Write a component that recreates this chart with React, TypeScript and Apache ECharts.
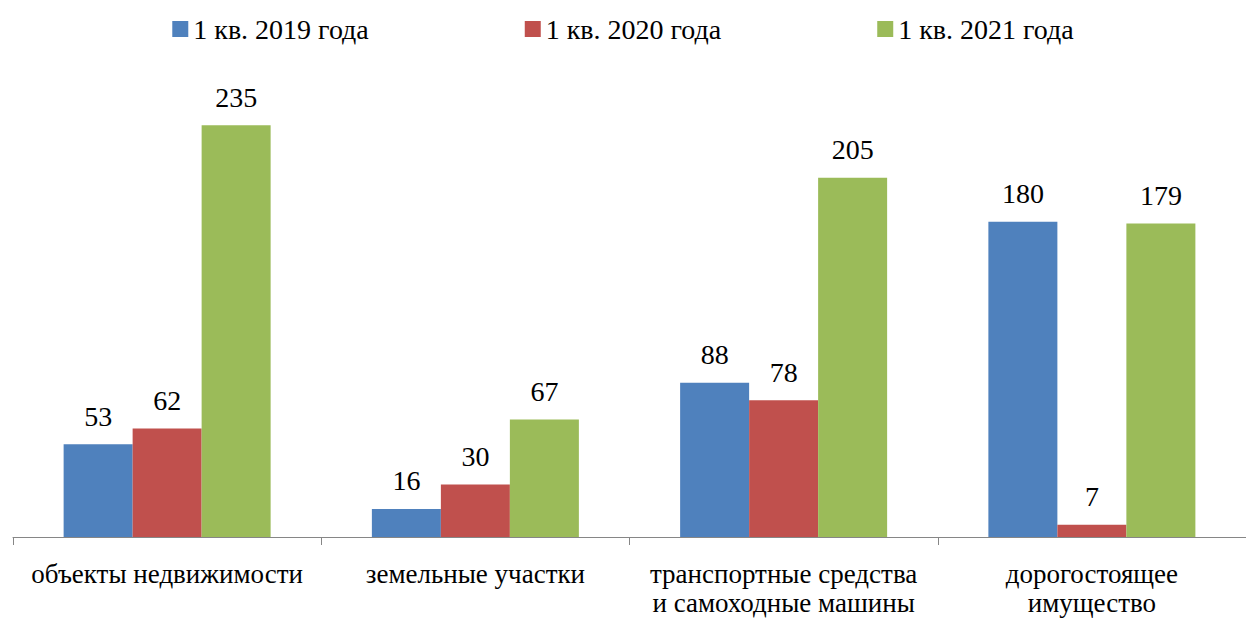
import React, { useEffect, useRef } from "react";
import * as echarts from "echarts";

const categories = [
  "объекты недвижимости",
  "земельные участки",
  "транспортные средства\nи самоходные машины",
  "дорогостоящее\nимущество",
];
const seriesNames = ["1 кв. 2019 года", "1 кв. 2020 года", "1 кв. 2021 года"];
const values2019 = [53, 16, 88, 180];
const values2020 = [62, 30, 78, 7];
const values2021 = [235, 67, 205, 179];
const colors = ["#4F81BD", "#C0504D", "#9BBB59"];

const FONT = "Times New Roman, Liberation Serif, serif";

export default function App() {
  const ref = useRef<HTMLDivElement>(null);
  useEffect(() => {
    if (!ref.current) return;
    const chart = echarts.init(ref.current, undefined, { renderer: "svg" });
    const data = [values2019, values2020, values2021];
    chart.setOption({
      animation: false,
      backgroundColor: "#ffffff",
      textStyle: { fontFamily: FONT },
      legend: {
        top: 10,
        left: "center",
        itemWidth: 16,
        itemHeight: 16,
        itemGap: 156,
        icon: "rect",
        textStyle: { fontFamily: FONT, fontSize: 28, color: "#000" },
        data: seriesNames,
      },
      grid: { left: 13, top: 99, right: 0, height: 438 },
      xAxis: {
        type: "category",
        data: categories,
        axisLine: { lineStyle: { color: "#868686", width: 1 } },
        axisTick: { show: true, length: 8, lineStyle: { color: "#868686" } },
        axisLabel: {
          fontFamily: FONT,
          fontSize: 27,
          color: "#000",
          margin: 22,
          lineHeight: 29,
          interval: 0,
        },
      },
      yAxis: { type: "value", min: 0, max: 250, show: false, splitLine: { show: false } },
      series: seriesNames.map((name, i) => ({
        name,
        type: "bar",
        data: data[i],
        barWidth: 69,
        barGap: "0%",
        itemStyle: { color: colors[i] },
        label: {
          show: true,
          position: "top",
          distance: 14,
          fontFamily: FONT,
          fontSize: 28,
          color: "#000",
        },
      })),
    });
    return () => chart.dispose();
  }, []);
  return (
    <div
      ref={ref}
      style={{ position: "fixed", left: 0, top: 0, width: 1246, height: 618 }}
    />
  );
}
